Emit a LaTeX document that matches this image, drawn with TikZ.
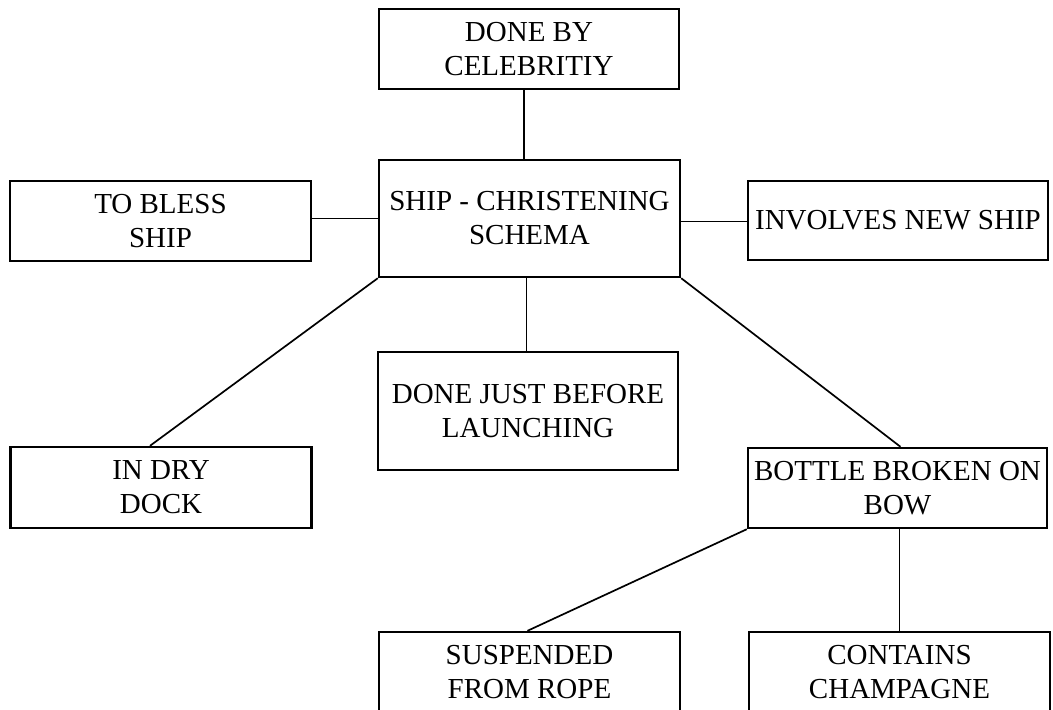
\documentclass[tikz,border=0pt]{standalone}
\usepackage{fontspec}
\setmainfont{Liberation Serif}
\usetikzlibrary{calc}
\begin{document}
\begin{tikzpicture}[x=1pt,y=-1pt,
  box/.style={draw=black, line width=2.4pt, fill=white, inner sep=0pt, align=center,
    font=\fontsize{29}{34}\selectfont, text=black},
  link/.style={draw=black, line width=1.7pt}]
\useasboundingbox (0,0) rectangle (1053,710);
\fill[white] (0,0) rectangle (1053,710);
\node[box, minimum width=300pt, minimum height=80pt] (done) at (529,49) {DONE BY\\CELEBRITIY};
\node[box, minimum width=301pt, minimum height=117pt] (ship) at (529.5,218.5) {SHIP - CHRISTENING\\SCHEMA};
\node[box, minimum width=301pt, minimum height=80pt] (bless) at (160.5,221) {TO BLESS\\SHIP};
\node[box, minimum width=300pt, minimum height=79pt] (involves) at (898,220.5) {INVOLVES NEW SHIP};
\node[box, minimum width=300pt, minimum height=118pt] (launch) at (528,411) {DONE JUST BEFORE\\LAUNCHING};
\node[box, minimum width=301pt, minimum height=81pt] (dry) at (161,487.5) {IN DRY\\DOCK};
\node[box, minimum width=299pt, minimum height=80pt] (bottle) at (897.5,488) {BOTTLE BROKEN ON\\BOW};
\node[box, minimum width=301pt, minimum height=80pt] (rope) at (529.5,672) {SUSPENDED\\FROM ROPE};
\node[box, minimum width=301pt, minimum height=80pt] (champ) at (899.5,672) {CONTAINS\\CHAMPAGNE};
\draw[link] ([xshift=-5pt]done.south) -- ([xshift=-5pt]done.south |- ship.north);
\draw[link] (bless.east |- ship.west) -- (ship.west);
\draw[link] ([yshift=-3pt]ship.east) -- ([yshift=-3pt]ship.east -| involves.west);
\draw[link] (ship.south west) -- ([xshift=-11pt]dry.north);
\draw[link] ([xshift=-3pt]ship.south) -- ([xshift=-3pt]ship.south |- launch.north);
\draw[link] (ship.south east) -- ([xshift=3pt]bottle.north);
\draw[link] (bottle.south west) -- ([xshift=-2pt]rope.north);
\draw[link] ([xshift=2pt]bottle.south) -- ([xshift=2pt]bottle.south |- champ.north);
\end{tikzpicture}
\end{document}
